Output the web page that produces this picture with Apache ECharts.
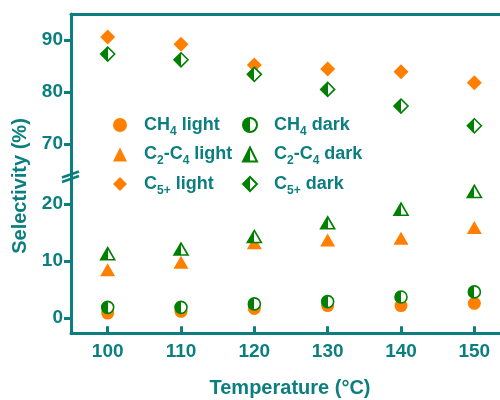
<!DOCTYPE html>
<html><head><meta charset="utf-8">
<script src="https://cdn.jsdelivr.net/npm/echarts@6/dist/echarts.min.js"></script>
<style>html,body{margin:0;padding:0;background:#fff}#c{width:500px;height:400px}</style>
</head><body><div id="c"></div>
<script>
const temperatures = [100, 110, 120, 130, 140, 150];
const ch4Light  = [0.9, 1.2, 1.7, 2.2, 2.2, 2.6];
const ch4Dark   = [1.9, 1.9, 2.5, 2.9, 3.7, 4.6];
const c2c4Light = [8.5, 9.8, 13.2, 13.7, 14.0, 15.9];
const c2c4Dark  = [11.3, 12.1, 14.3, 16.7, 19.1, 22.2];
const c5Light   = [90.6, 89.2, 85.2, 84.4, 83.9, 81.8];
const c5Dark    = [87.3, 86.2, 83.4, 80.5, 77.3, 73.5];
const xTicks = [100, 110, 120, 130, 140, 150];
const yTicksTop = [70, 80, 90];
const yTicksBottom = [0, 10, 20];
const lightNames = ['CH4 light', 'C2-C4 light', 'C5+ light'];
const darkNames = ['CH4 dark', 'C2-C4 dark', 'C5+ dark'];
const richNames = {
  'CH4 light': 'CH{s|4} light', 'C2-C4 light': 'C{s|2}-C{s|4} light', 'C5+ light': 'C{s|5+} light',
  'CH4 dark': 'CH{s|4} dark', 'C2-C4 dark': 'C{s|2}-C{s|4} dark', 'C5+ dark': 'C{s|5+} dark'
};

const TEAL = '#0b7f80', ORANGE = '#ff8000', GREEN = '#008000';
const FONT = 'Liberation Sans';
const pair = arr => arr.map((v, i) => [temperatures[i], v]);
const half = {
  type: 'linear', x: 0, y: 0, x2: 1, y2: 0,
  colorStops: [{offset: 0, color: GREEN}, {offset: 0.5, color: GREEN}, {offset: 0.5, color: '#fff'}, {offset: 1, color: '#fff'}]
};
function light(name, data, symbol, size, gi) {
  return {name, type: 'scatter', xAxisIndex: gi, yAxisIndex: gi, data: pair(data), symbol, symbolSize: size,
    itemStyle: {color: ORANGE, opacity: 1}, z: 2};
}
function dark(name, data, symbol, size, gi) {
  return {name, type: 'scatter', xAxisIndex: gi, yAxisIndex: gi, data: pair(data), symbol, symbolSize: size,
    itemStyle: {color: half, borderColor: GREEN, borderWidth: 1.6, opacity: 1}, z: 3};
}
const axisLineStyle = {show: true, onZero: false, lineStyle: {color: TEAL, width: 3}};
const labelStyle = {color: TEAL, fontFamily: FONT, fontWeight: 'bold', fontSize: 19};
const legendBase = {
  orient: 'vertical', top: 111, itemWidth: 14, itemHeight: 14, itemGap: 8,
  formatter: n => richNames[n],
  textStyle: {color: TEAL, fontFamily: FONT, fontWeight: 'bold', fontSize: 18, padding: [0, 0, 0, 12],
    rich: {s: {color: TEAL, fontFamily: FONT, fontWeight: 'bold', fontSize: 12, padding: [13, 0, 0, 0], verticalAlign: 'bottom'}}}
};

const chart = echarts.init(document.getElementById('c'));
chart.setOption({
  animation: false,
  backgroundColor: '#fff',
  grid: [
    {left: 71, right: 0, top: 14, height: 158.6},
    {left: 71, right: 0, top: 172.6, height: 160.7}
  ],
  xAxis: [
    {gridIndex: 0, type: 'value', position: 'top', min: 95, max: 153.5, axisLine: axisLineStyle,
      axisTick: {show: false}, axisLabel: {show: false}, splitLine: {show: false}},
    {gridIndex: 1, type: 'value', position: 'bottom', min: 95, max: 153.5, axisLine: axisLineStyle,
      axisTick: {show: true, inside: true, length: 7, lineStyle: {color: TEAL, width: 3}, customValues: xTicks},
      axisLabel: Object.assign({margin: 9, customValues: xTicks}, labelStyle), splitLine: {show: false}}
  ],
  yAxis: [
    {gridIndex: 0, type: 'value', min: 64.5, max: 95, axisLine: axisLineStyle,
      axisTick: {show: true, inside: false, length: 7, lineStyle: {color: TEAL, width: 3}, customValues: yTicksTop},
      axisLabel: Object.assign({margin: 8, customValues: yTicksTop}, labelStyle), splitLine: {show: false}},
    {gridIndex: 1, type: 'value', min: -2.65, max: 25.5, axisLine: axisLineStyle,
      axisTick: {show: true, inside: false, length: 7, lineStyle: {color: TEAL, width: 3}, customValues: yTicksBottom},
      axisLabel: Object.assign({margin: 8, customValues: yTicksBottom}, labelStyle), splitLine: {show: false}}
  ],
  legend: [
    Object.assign({left: 108, data: lightNames}, legendBase),
    Object.assign({left: 237, data: darkNames}, legendBase)
  ],
  series: [
    light('CH4 light', ch4Light, 'circle', 13, 1),
    light('C2-C4 light', c2c4Light, 'triangle', [15, 13], 1),
    light('C5+ light', c5Light, 'diamond', 15, 0),
    dark('CH4 dark', ch4Dark, 'circle', 12, 1),
    dark('C2-C4 dark', c2c4Dark, 'triangle', [14, 12], 1),
    dark('C5+ dark', c5Dark, 'diamond', 14, 0)
  ],
  graphic: [
    {type: 'text', x: 20, y: 186, rotation: Math.PI / 2,
      style: {text: 'Selectivity (%)', fill: TEAL, font: 'bold 20px "Liberation Sans"', align: 'center', verticalAlign: 'middle'}},
    {type: 'text', x: 290, y: 388,
      style: {text: 'Temperature (°C)', fill: TEAL, font: 'bold 20px "Liberation Sans"', align: 'center', verticalAlign: 'middle'}},
    {type: 'line', shape: {x1: 62, y1: 177.5, x2: 79, y2: 171.5}, style: {stroke: TEAL, lineWidth: 2.5}, z: 10},
    {type: 'line', shape: {x1: 62, y1: 182, x2: 79, y2: 176}, style: {stroke: TEAL, lineWidth: 2.5}, z: 10}
  ]
});
</script>
</body></html>
